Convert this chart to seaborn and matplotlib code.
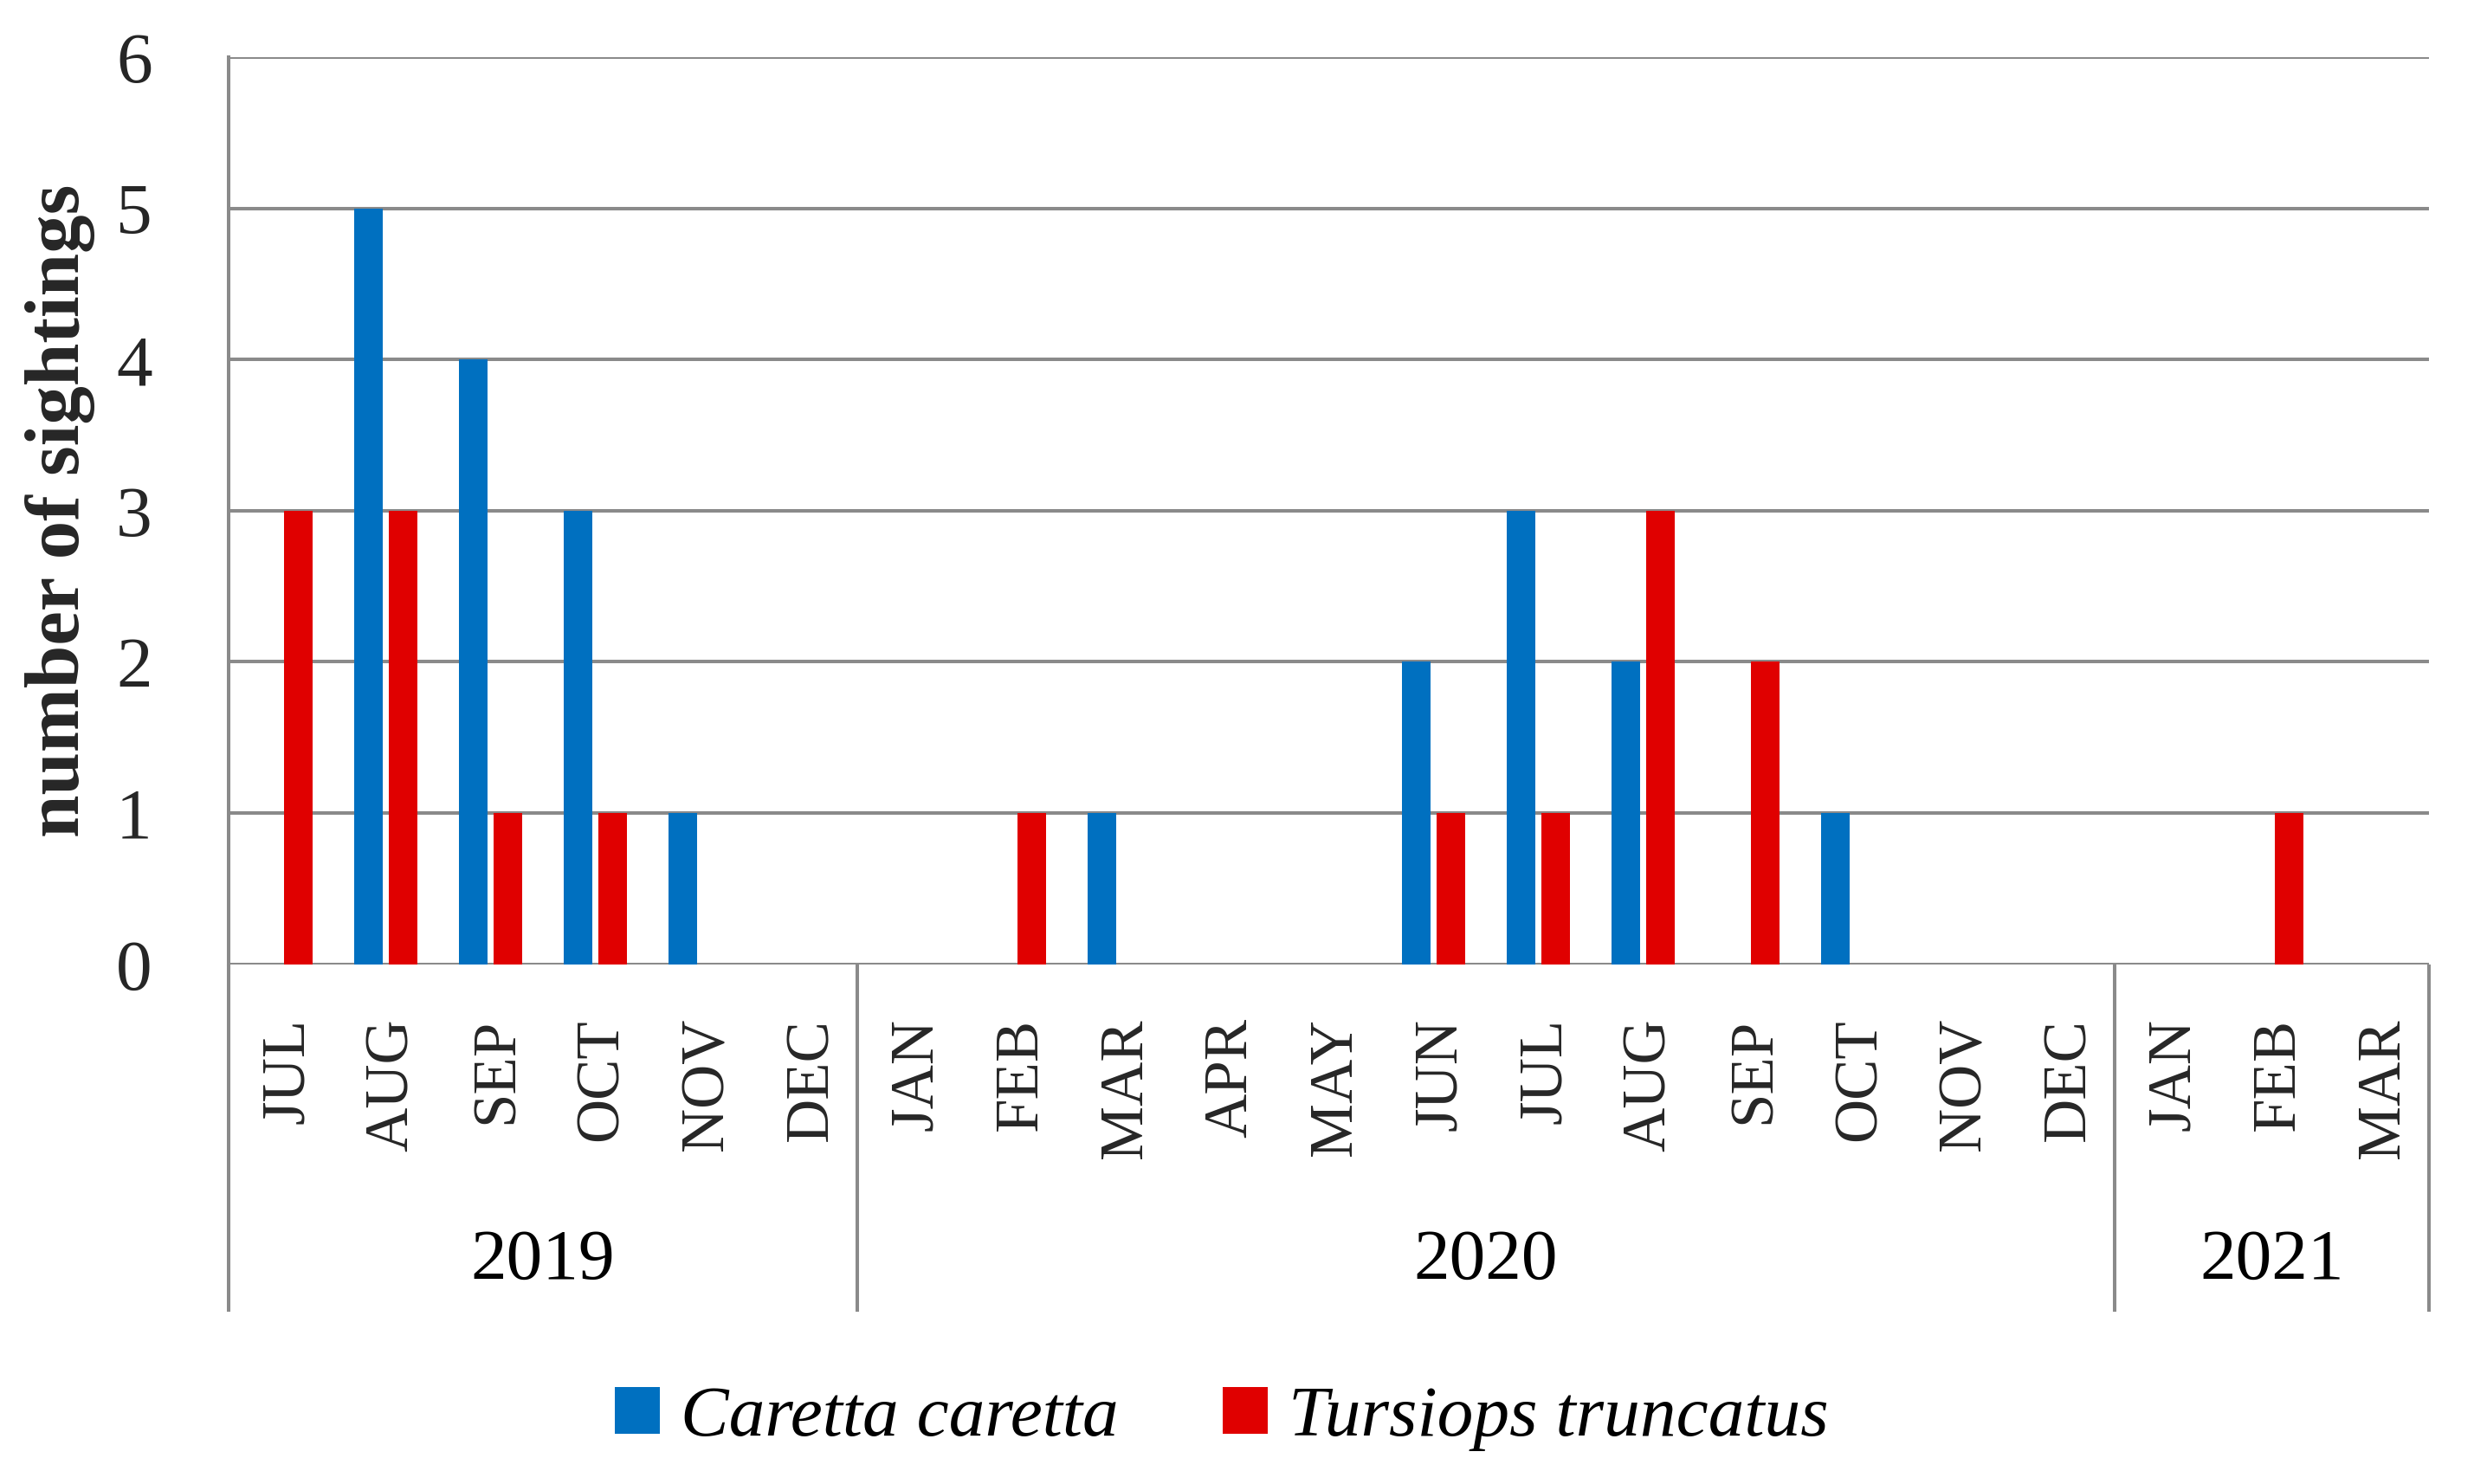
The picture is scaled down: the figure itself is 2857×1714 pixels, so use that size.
import numpy as np
import pandas as pd
import matplotlib
matplotlib.use('Agg')
import matplotlib.pyplot as plt
import matplotlib.transforms as mtransforms
import seaborn as sns

# data
months = ['JUL', 'AUG', 'SEP', 'OCT', 'NOV', 'DEC',
          'JAN', 'FEB', 'MAR', 'APR', 'MAY', 'JUN', 'JUL', 'AUG', 'SEP', 'OCT', 'NOV', 'DEC',
          'JAN', 'FEB', 'MAR']
years = ['2019', '2020', '2021']
months_per_year = [6, 12, 3]
caretta = [0, 5, 4, 3, 1, 0, 0, 0, 1, 0, 0, 2, 3, 2, 0, 1, 0, 0, 0, 0, 0]
tursiops = [3, 3, 1, 1, 0, 0, 0, 1, 0, 0, 0, 1, 1, 3, 2, 0, 0, 0, 0, 1, 0]
species = ['Caretta caretta', 'Tursiops truncatus']
colors = ['#0070C0', '#E00000']

grid_gray = '#8a8a8a'
lw = 2.9

sns.set_style('white')
plt.rcParams['font.family'] = ['Liberation Serif', 'DejaVu Serif']
plt.rcParams['text.color'] = 'black'

slots = list(range(len(months)))
df = pd.DataFrame({
    'slot': slots * 2,
    'species': np.repeat(species, len(months)),
    'count': caretta + tursiops,
})

fig = plt.figure(figsize=(28.57, 17.14), dpi=100)
ax = fig.add_axes([0.0923, 0.3503, 0.8895, 0.6111])

sns.barplot(data=df, x='slot', y='count', hue='species', hue_order=species,
            palette=colors, width=0.66, gap=0.175, saturation=1, linewidth=0, ax=ax)

handles, labels = ax.get_legend_handles_labels()
ax.get_legend().remove()

ax.set_ylim(0, 6)
ax.set_xlim(-0.5, len(months) - 0.5)
ax.set_yticks(range(7))
ax.grid(axis='y', color=grid_gray, linewidth=lw)
ax.set_axisbelow(True)

for s in ['top', 'right', 'bottom']:
    ax.spines[s].set_visible(False)
ax.spines['left'].set_color(grid_gray)
ax.spines['left'].set_linewidth(lw)

ax.tick_params(axis='y', length=21.6, width=lw, color=grid_gray, pad=41.8, labelsize=60)
ax.set_xticks(slots)
ax.set_xticklabels(months, rotation=90, fontsize=51)
ax.tick_params(axis='x', length=0, pad=45)

ax.set_xlabel('')
ax.set_ylabel('number of sightings', fontsize=64, fontweight='bold')
ax.yaxis.set_label_coords(-0.0605, 0.5)

# year groups under the month labels
trans = mtransforms.blended_transform_factory(ax.transData, ax.transAxes)
bounds = np.concatenate([[0], np.cumsum(months_per_year)]) - 0.5
for b in bounds:
    ax.plot([b, b], [0, -0.383], color=grid_gray, linewidth=lw,
            transform=trans, clip_on=False, solid_capstyle='butt')
for i, y in enumerate(years):
    ax.text((bounds[i] + bounds[i + 1]) / 2, -0.328, y, transform=trans,
            ha='center', va='center', fontsize=60)

fig.legend(handles, labels, loc='center', bbox_to_anchor=(0.4939, 0.044), ncol=2,
           frameon=False, prop={'style': 'italic', 'size': 60},
           handlelength=0.624, handleheight=0.61, handletextpad=0.29, columnspacing=1.44)

# month labels sit a little right of the slot centre in the original
fig.canvas.draw()
shift = mtransforms.ScaledTranslation(6 / 72, 0, fig.dpi_scale_trans)
for lab in ax.get_xticklabels():
    lab.set_transform(lab.get_transform() + shift)

fig.savefig('out.png', dpi=100)
